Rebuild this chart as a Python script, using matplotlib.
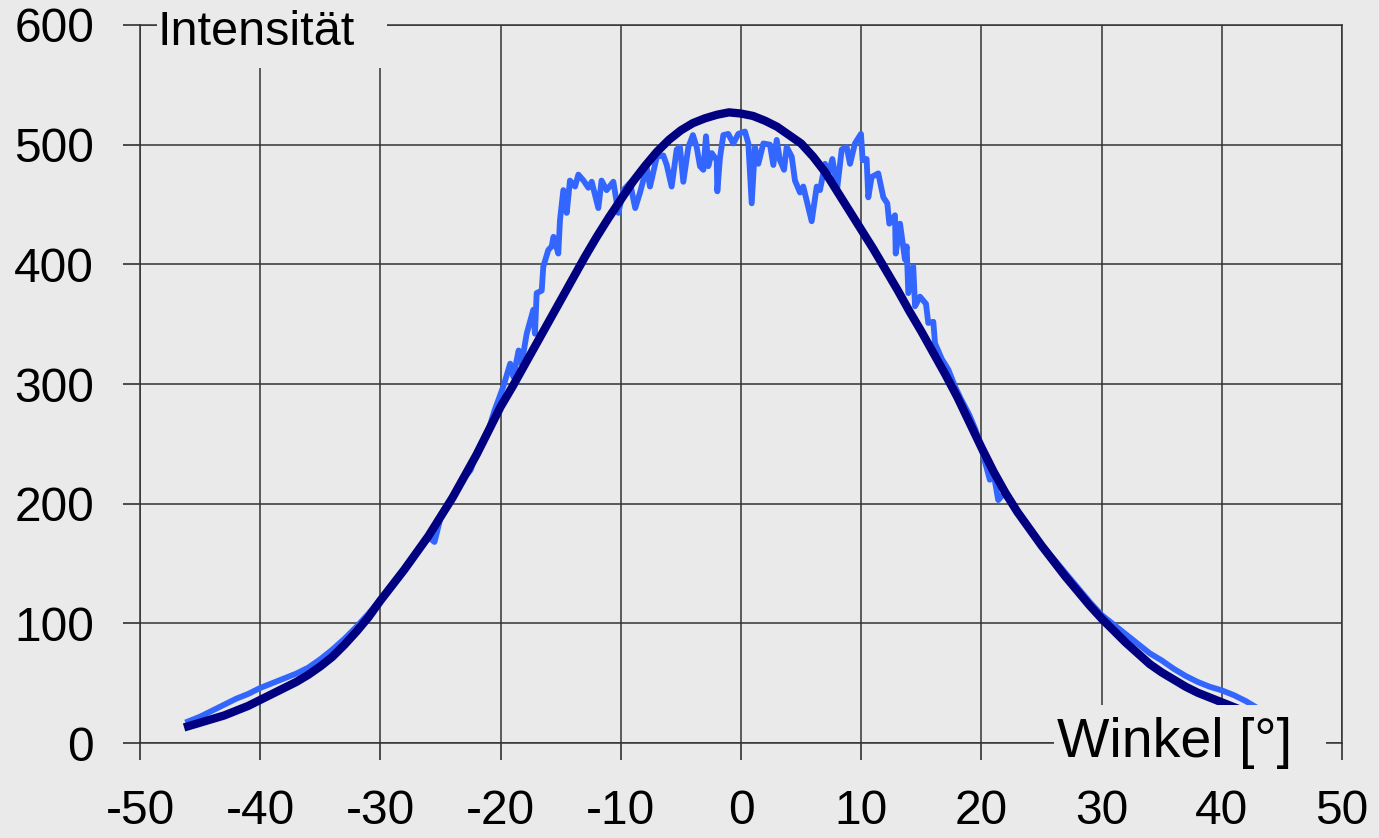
import numpy as np
import matplotlib
matplotlib.use('Agg')
import matplotlib.pyplot as plt
from matplotlib.patches import Rectangle

## DATA
# measured intensity (noisy, light blue)
light_x = [-46.0, -45.0, -44.0, -43.0, -42.0, -41.0, -40.0, -39.0, -38.0, -37.0,
           -36.0, -35.0, -34.0, -33.0, -32.0, -31.0, -30.0, -29.0, -28.0, -27.0,
           -26.0, -25.5, -25.0, -24.0, -23.0, -22.5, -22.0, -21.0, -20.5, -19.77,
           -19.2, -18.94, -18.5, -18.25, -17.83, -17.28, -17.14, -17.0, -16.58, -16.45,
           -16.03, -15.75, -15.6, -15.2, -15.06, -14.78, -14.5, -14.23, -13.81, -13.53,
           -13.1, -12.7, -12.42, -11.87, -11.6, -11.18, -10.62, -10.2, -9.79, -9.23,
           -8.8, -8.4, -7.85, -7.57, -7.0, -6.46, -6.18, -5.77, -5.35, -5.08,
           -4.8, -4.38, -4.0, -3.69, -3.41, -3.13, -2.91, -2.72, -2.44, -2.02,
           -1.97, -1.75, -1.47, -1.06, -0.64, -0.22, 0.33, 0.61, 0.89, 1.16,
           1.44, 1.86, 2.41, 2.69, 2.97, 3.24, 3.58, 3.8, 4.22, 4.49,
           4.91, 5.18, 5.88, 6.3, 6.57, 6.99, 7.26, 7.6, 8.01, 8.38,
           8.79, 9.07, 9.48, 9.98, 10.12, 10.45, 10.59, 10.87, 11.42, 11.84,
           12.17, 12.34, 12.81, 12.87, 13.23, 13.64, 13.78, 13.92, 14.33, 14.48,
           14.89, 15.39, 15.58, 16.0, 16.14, 16.7, 17.25, 17.8, 18.22, 19.0,
           19.5, 20.0, 20.7, 21.0, 21.4, 22.0, 23.0, 24.0, 25.0, 26.0,
           27.0, 28.0, 29.0, 30.0, 31.0, 32.0, 33.0, 34.0, 35.0, 36.0,
           37.0, 38.0, 39.0, 40.0, 41.0, 42.0, 43.0]
light_y = [18, 22, 27, 32, 37, 41, 46, 50, 54, 58,
           63, 70, 78, 87, 97, 108, 120, 132, 146, 160,
           172, 168, 188, 205, 222, 228, 242, 262, 278, 298,
           317, 306, 328, 317, 342, 362, 342, 376, 378, 398,
           412, 415, 423, 409, 437, 462, 443, 470, 465, 475,
           470, 464, 469, 447, 470, 462, 469, 443, 462, 468,
           447, 460, 481, 465, 490, 491, 483, 465, 496, 498,
           469, 498, 508, 498, 482, 479, 507, 482, 493, 487,
           461, 489, 508, 509, 501, 509, 511, 501, 451, 498,
           484, 501, 500, 483, 504, 487, 479, 498, 490, 470,
           460, 465, 436, 465, 462, 484, 475, 488, 464, 496,
           498, 484, 501, 509, 487, 488, 456, 473, 476, 456,
           451, 434, 441, 409, 434, 404, 415, 376, 398, 365,
           373, 367, 351, 352, 334, 321, 312, 298, 289, 274,
           262, 246, 220, 226, 203, 210, 194, 180, 166, 154,
           142, 130, 118, 107, 99, 91, 83, 75, 69, 62,
           56, 51, 47, 44, 40, 35, 29]

# fitted curve (smooth, dark blue), one reading per degree
dark_x = list(range(-46, 44))
dark_y = [14, 17, 20, 23, 27, 31, 36, 41, 46, 51,
          57, 64, 72, 82, 93, 105, 119, 132, 145, 159,
          173, 189, 205, 223, 241, 261, 281, 298, 316, 334,
          352, 370, 388, 406, 423, 439, 454, 469, 482, 494,
          504, 512, 518, 522, 525, 527, 526, 524, 520, 515,
          508, 501, 490, 477, 461, 445, 429, 413, 396, 379,
          361, 344, 326, 308, 289, 268, 247, 227, 209, 193,
          179, 165, 152, 139, 127, 115, 104, 94, 84, 75,
          66, 59, 53, 47, 42, 38, 34, 30, 26, 22]

x_ticks = np.arange(-50, 51, 10)
y_ticks = np.arange(0, 601, 100)

## PLOT
W, H = 1379, 838
bg = '#EAEAEA'
plt.rcParams['font.family'] = ['Liberation Sans', 'DejaVu Sans']
plt.rcParams['axes.unicode_minus'] = False

fig = plt.figure(figsize=(W / 100, H / 100), dpi=100, facecolor=bg)
ax = fig.add_axes([140 / W, 1 - 743 / H, 1202 / W, 718 / H])
ax.set_facecolor(bg)

ax.plot(light_x, light_y, color='#3366FF', lw=4.2, solid_joinstyle='round', zorder=3)
ax.plot(dark_x, dark_y, color='#000080', lw=6.0, solid_joinstyle='round', zorder=4)

ax.set_xlim(-50, 50)
ax.set_ylim(0, 600)
ax.set_xticks(x_ticks)
ax.set_yticks(y_ticks)
ax.grid(True, color='#333333', lw=1.1)
ax.tick_params(direction='out', length=12, width=1.1, pad=21, labelsize=34.5, color='#202020')
for s in ax.spines.values():
    s.set_color('#333333')
    s.set_linewidth(1.1)

# axis titles sit on boxes that hide the grid behind them
fig.add_artist(Rectangle((157 / W, 1 - 68 / H), 230 / W, 68 / H, transform=fig.transFigure,
                         facecolor=bg, edgecolor='none', zorder=5))
fig.text(157 / W, 1 - 45 / H, 'Intensität', fontsize=35, va='baseline', ha='left', zorder=6)

fig.add_artist(Rectangle((1054 / W, 1 - 775 / H), 272 / W, 70 / H, transform=fig.transFigure,
                         facecolor=bg, edgecolor='none', zorder=5))
fig.text(1057 / W, 1 - 757 / H, 'Winkel [°]', fontsize=40, va='baseline', ha='left', zorder=6)

fig.savefig('out.png', dpi=100, facecolor=bg)
